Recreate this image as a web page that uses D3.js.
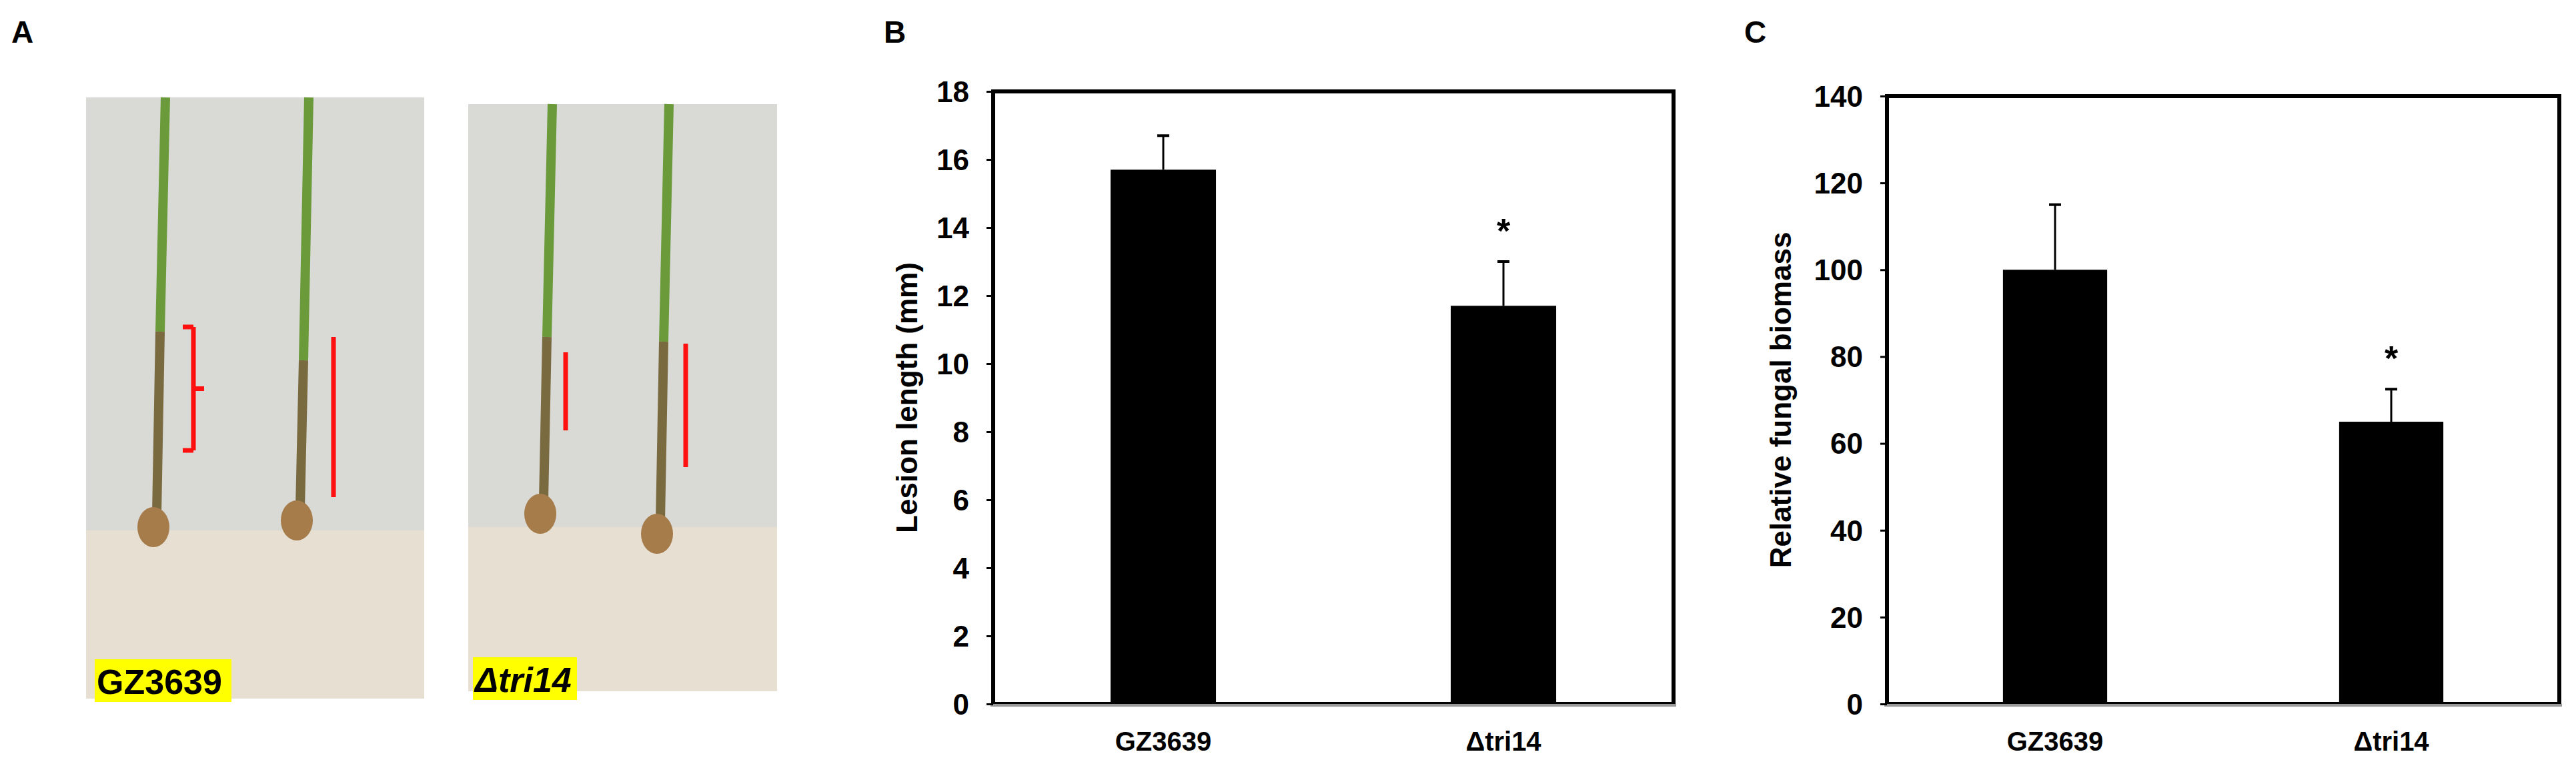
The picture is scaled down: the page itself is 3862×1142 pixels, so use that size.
<!DOCTYPE html>
<html>
<head>
<meta charset="utf-8">
<script src="https://cdn.jsdelivr.net/npm/d3@7"></script>
<style>
  body { margin: 0; background: #fff; }
  svg { font-family: "Liberation Sans", Arial, sans-serif; font-weight: bold; }
</style>
</head>
<body>
<svg id="canvas" width="3862" height="1142"></svg>
<script>
// data
var strains = ['GZ3639', '\u0394tri14'];
var lesionMean = [15.7, 11.7];
var lesionErr = [1.0, 1.3];
var lesionTicks = [0, 2, 4, 6, 8, 10, 12, 14, 16, 18];
var biomassMean = [100, 65];
var biomassErr = [15, 7.5];
var biomassTicks = [0, 20, 40, 60, 80, 100, 120, 140];
var significant = [false, true];

var svg = d3.select('#canvas');

// panel letters
[['A', 17], ['B', 1325], ['C', 2615]].forEach(function (p) {
  svg.append('text').attr('x', p[1]).attr('y', 64)
    .style('font-size', '46px').text(p[0]);
});

// panel A: photo stand-ins (stem x, lesion top y, seed y)
var photos = [
  {x: 129, y: 146, w: 507, h: 901, label: 'GZ3639', lx: 142, lw: 205, ly: 988, italic: false,
   stems: [[240, 497, 790], [455, 540, 780]], brackets: [[290, 490, 675, 'brace'], [500, 505, 745, 'line']]},
  {x: 702, y: 156, w: 463, h: 880, label: '\u0394tri14', lx: 709, lw: 156, ly: 985, italic: true,
   stems: [[820, 505, 770], [995, 512, 800]], brackets: [[848, 528, 645, 'line'], [1028, 515, 700, 'line']]}
];
photos.forEach(function (p) {
  svg.append('rect').attr('x', p.x).attr('y', p.y).attr('width', p.w).attr('height', p.h)
    .attr('fill', '#d9d9d6');
  svg.append('rect').attr('x', p.x).attr('y', p.y + p.h * 0.72).attr('width', p.w).attr('height', p.h * 0.28)
    .attr('fill', '#e6dfd2');
  p.stems.forEach(function (s) {
    svg.append('line').attr('x1', s[0] + 8).attr('y1', p.y).attr('x2', s[0]).attr('y2', s[1])
      .attr('stroke', '#6a9a3a').attr('stroke-width', 14);
    svg.append('line').attr('x1', s[0]).attr('y1', s[1]).attr('x2', s[0] - 5).attr('y2', s[2] - 20)
      .attr('stroke', '#7a6a40').attr('stroke-width', 14);
    svg.append('ellipse').attr('cx', s[0] - 10).attr('cy', s[2]).attr('rx', 24).attr('ry', 30)
      .attr('fill', '#a57c4a');
  });
  p.brackets.forEach(function (b) {
    svg.append('line').attr('x1', b[0]).attr('y1', b[1]).attr('x2', b[0]).attr('y2', b[2])
      .attr('stroke', '#ff1010').attr('stroke-width', 7);
    if (b[3] === 'brace') {
      svg.append('path').attr('d', 'M' + (b[0] - 16) + ',' + b[1] + 'H' + b[0] + 'M' + (b[0] - 16) + ',' + b[2] + 'H' + b[0] +
        'M' + b[0] + ',' + ((b[1] + b[2]) / 2) + 'h16')
        .attr('stroke', '#ff1010').attr('stroke-width', 7).attr('fill', 'none');
    }
  });
  svg.append('rect').attr('x', p.lx).attr('y', p.ly).attr('width', p.lw).attr('height', 64).attr('fill', '#ffff00');
  svg.append('text').attr('x', p.lx + 3).attr('y', p.ly + 52)
    .style('font-size', '52px').style('font-style', p.italic ? 'italic' : 'normal').text(p.label);
});

// bar panels
function barPanel(cfg) {
  var x = d3.scaleBand().domain(strains).range([cfg.left, cfg.right]).paddingInner(0.69).paddingOuter(0.345);
  var y = d3.scaleLinear().domain([0, cfg.ticks[cfg.ticks.length - 1]]).range([cfg.bottom, cfg.top]);
  var g = svg.append('g');

  g.selectAll('rect.bar').data(strains).enter().append('rect')
    .attr('class', 'bar')
    .attr('x', d => x(d)).attr('width', x.bandwidth())
    .attr('y', (d, i) => y(cfg.mean[i]))
    .attr('height', (d, i) => y(0) - y(cfg.mean[i]))
    .attr('fill', '#000');

  // error bars (upper only)
  strains.forEach(function (d, i) {
    var cx = x(d) + x.bandwidth() / 2;
    g.append('line').attr('x1', cx).attr('x2', cx)
      .attr('y1', y(cfg.mean[i])).attr('y2', y(cfg.mean[i] + cfg.err[i]))
      .attr('stroke', '#000').attr('stroke-width', 3);
    g.append('line').attr('x1', cx - 9).attr('x2', cx + 9)
      .attr('y1', y(cfg.mean[i] + cfg.err[i])).attr('y2', y(cfg.mean[i] + cfg.err[i]))
      .attr('stroke', '#000').attr('stroke-width', 4);
    if (significant[i]) {
      g.append('text').attr('x', cx).attr('y', y(cfg.mean[i] + cfg.err[i]) - 28)
        .attr('text-anchor', 'middle').style('font-size', '52px').text('*');
    }
  });

  // frame
  g.append('rect').attr('x', cfg.left).attr('y', cfg.top)
    .attr('width', cfg.right - cfg.left).attr('height', cfg.bottom - cfg.top)
    .attr('fill', 'none').attr('stroke', '#000').attr('stroke-width', 6);
  g.append('line').attr('x1', cfg.left - 4).attr('x2', cfg.right + 4)
    .attr('y1', cfg.bottom + 2).attr('y2', cfg.bottom + 2).attr('stroke', '#999').attr('stroke-width', 4);

  // y axis
  var ya = g.append('g').attr('transform', 'translate(' + cfg.left + ',0)')
    .call(d3.axisLeft(y).tickValues(cfg.ticks).tickSize(10).tickPadding(26));
  ya.select('.domain').remove();
  ya.selectAll('line').attr('stroke-width', 3);
  ya.selectAll('text').style('font-size', '44px').attr('dy', '0.35em');

  // x labels
  g.selectAll('text.xl').data(strains).enter().append('text')
    .attr('class', 'xl')
    .attr('x', d => x(d) + x.bandwidth() / 2).attr('y', cfg.bottom + 70)
    .attr('text-anchor', 'middle').style('font-size', '40px').text(d => d);

  // y title
  g.append('text')
    .attr('transform', 'translate(' + cfg.titleX + ',' + ((cfg.top + cfg.bottom) / 2) + ') rotate(-90)')
    .attr('text-anchor', 'middle').style('font-size', '44px').text(cfg.title);
}

barPanel({left: 1489, right: 2509, top: 137, bottom: 1055, ticks: lesionTicks,
  mean: lesionMean, err: lesionErr, title: 'Lesion length (mm)', titleX: 1375});
barPanel({left: 2829, right: 3837, top: 144, bottom: 1055, ticks: biomassTicks,
  mean: biomassMean, err: biomassErr, title: 'Relative fungal biomass', titleX: 2685});
</script>
</body>
</html>
